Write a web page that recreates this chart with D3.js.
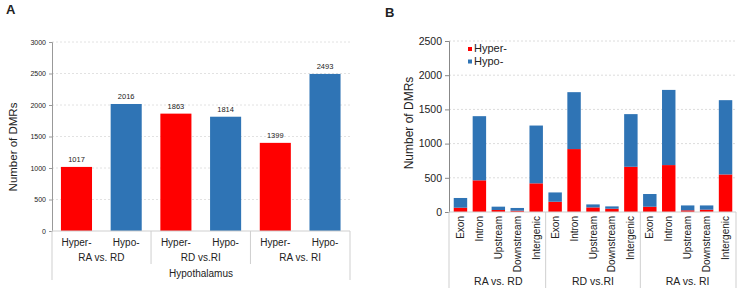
<!doctype html>
<html>
  <head>
    <meta charset="utf-8">
    <title>DMRs</title>
    <script src="https://cdn.jsdelivr.net/npm/d3@7"></script>
    <style>
      body { margin: 0; background: #fff; }
      text { font-family: "Liberation Sans", Arial, sans-serif; fill: #222; }
    </style>
  </head>
  <body>
    <script>
      // panel A data
      const comparisons = ['RA vs. RD', 'RD vs.RI', 'RA vs. RI'];
      const directions = ['Hyper-', 'Hypo-'];
      const hyperTotals = [1017, 1863, 1399];
      const hypoTotals = [2016, 1814, 2493];
      const ticksA = [0, 500, 1000, 1500, 2000, 2500, 3000];

      // panel B data
      const regions = ['Exon', 'Intron', 'Upstream', 'Downstream', 'Intergenic'];
      const hyperByRegion = [
        [63, 463, 29, 19, 419],
        [150, 920, 67, 48, 661],
        [77, 686, 25, 34, 549]
      ];
      const hypoByRegion = [
        [142, 938, 49, 40, 845],
        [136, 832, 44, 34, 770],
        [186, 1099, 71, 62, 1086]
      ];
      const ticksB = [0, 500, 1000, 1500, 2000, 2500];

      const red = '#ff0000';
      const blue = '#2f74b5';
      const colors = [red, blue];

      const svg = d3.select('body').append('svg')
          .attr('width', 744)
          .attr('height', 299);

      // ---------- Panel A ----------
      const a = svg.append('g');
      a.append('text').attr('x', 6).attr('y', 14)
          .attr('font-size', 13).attr('font-weight', 'bold').text('A');

      const rowsA = [];
      comparisons.forEach((c, i) => {
        rowsA.push({ group: c, dir: directions[0], value: hyperTotals[i], key: c + directions[0] });
        rowsA.push({ group: c, dir: directions[1], value: hypoTotals[i], key: c + directions[1] });
      });

      const xA = d3.scaleBand()
          .domain(rowsA.map(d => d.key))
          .range([52, 349.5])
          .paddingInner(0.375)
          .paddingOuter(0.18);
      const yA = d3.scaleLinear().domain([0, 3000]).range([231, 42]);

      // gridlines
      a.append('g').selectAll('line')
        .data(ticksA.slice(1))
        .enter().append('line')
          .attr('x1', 52).attr('x2', 350)
          .attr('y1', d => yA(d)).attr('y2', d => yA(d))
          .attr('stroke', '#e2e2e2').attr('stroke-dasharray', '2,2');

      const yAxisA = a.append('g')
          .attr('transform', 'translate(52,0)')
          .call(d3.axisLeft(yA).tickValues(ticksA).tickFormat(d3.format('d')).tickSize(3).tickPadding(3));
      yAxisA.select('.domain').attr('stroke', '#999');
      yAxisA.selectAll('.tick line').attr('stroke', '#999');
      yAxisA.selectAll('.tick text').attr('font-size', 7).attr('fill', '#333')
          .attr('font-family', '"Liberation Sans", Arial, sans-serif');

      a.selectAll('rect.bar')
        .data(rowsA)
        .enter().append('rect')
          .attr('class', 'bar')
          .attr('x', d => xA(d.key))
          .attr('width', xA.bandwidth())
          .attr('y', d => yA(d.value))
          .attr('height', d => yA(0) - yA(d.value))
          .attr('fill', d => d.dir === directions[0] ? red : blue);

      a.selectAll('text.val')
        .data(rowsA)
        .enter().append('text')
          .attr('class', 'val')
          .attr('x', d => xA(d.key) + xA.bandwidth() / 2)
          .attr('y', d => yA(d.value) - 5)
          .attr('text-anchor', 'middle')
          .attr('font-size', 7.5)
          .text(d => d.value);

      // baseline + category axis
      const stepA = xA.step();
      const axisGray = '#cfcfcf';
      a.append('line').attr('x1', 52).attr('x2', 350)
          .attr('y1', 231).attr('y2', 231).attr('stroke', axisGray);
      a.append('line').attr('x1', 52).attr('x2', 52)
          .attr('y1', 231).attr('y2', 280).attr('stroke', axisGray);
      a.append('line').attr('x1', 350).attr('x2', 350)
          .attr('y1', 231).attr('y2', 280).attr('stroke', axisGray);
      comparisons.slice(1).forEach(c => {
        const xs = xA(c + directions[0]) - (stepA - xA.bandwidth()) / 2;
        a.append('line').attr('x1', xs).attr('x2', xs)
            .attr('y1', 231).attr('y2', 264).attr('stroke', axisGray);
      });

      a.selectAll('text.dir')
        .data(rowsA)
        .enter().append('text')
          .attr('class', 'dir')
          .attr('x', d => xA(d.key) + xA.bandwidth() / 2)
          .attr('y', 245.5)
          .attr('text-anchor', 'middle')
          .attr('font-size', 10)
          .text(d => d.dir);

      a.selectAll('text.grp')
        .data(comparisons)
        .enter().append('text')
          .attr('class', 'grp')
          .attr('x', c => (xA(c + directions[0]) + xA(c + directions[1]) + xA.bandwidth()) / 2)
          .attr('y', 261)
          .attr('text-anchor', 'middle')
          .attr('font-size', 10)
          .text(c => c);

      a.append('text')
          .attr('x', 201).attr('y', 277)
          .attr('text-anchor', 'middle')
          .attr('font-size', 10)
          .text('Hypothalamus');

      a.append('text')
          .attr('transform', 'translate(17,147) rotate(-90)')
          .attr('text-anchor', 'middle')
          .attr('font-size', 11.5)
          .text('Number of DMRs');

      // ---------- Panel B ----------
      const b = svg.append('g');
      b.append('text').attr('x', 385).attr('y', 17)
          .attr('font-size', 13).attr('font-weight', 'bold').text('B');

      const rowsB = [];
      comparisons.forEach((c, gi) => {
        regions.forEach((r, ri) => {
          rowsB.push({
            group: c, region: r, key: c + '|' + r,
            hyper: hyperByRegion[gi][ri], hypo: hypoByRegion[gi][ri]
          });
        });
      });

      const xB = d3.scaleBand()
          .domain(rowsB.map(d => d.key))
          .range([449, 737])
          .paddingInner(0.29)
          .paddingOuter(0.25);
      const yB = d3.scaleLinear().domain([0, 2500]).range([212, 41]);

      b.append('g').selectAll('line')
        .data(ticksB.slice(1))
        .enter().append('line')
          .attr('x1', 449).attr('x2', 736)
          .attr('y1', d => yB(d)).attr('y2', d => yB(d))
          .attr('stroke', '#dcdcdc').attr('stroke-dasharray', '2,2');

      const yAxisB = b.append('g')
          .attr('transform', 'translate(449,0)')
          .call(d3.axisLeft(yB).tickValues(ticksB).tickFormat(d3.format('d')).tickSize(4).tickPadding(3));
      yAxisB.select('.domain').attr('stroke', '#888');
      yAxisB.selectAll('.tick line').attr('stroke', '#888');
      yAxisB.selectAll('.tick text').attr('font-size', 10.5).attr('fill', '#222')
          .attr('font-family', '"Liberation Sans", Arial, sans-serif');

      const stack = d3.stack().keys(['hyper', 'hypo'])(rowsB);
      b.selectAll('g.series')
        .data(stack)
        .enter().append('g')
          .attr('class', 'series')
          .attr('fill', (d, i) => colors[i])
        .selectAll('rect')
        .data(d => d)
        .enter().append('rect')
          .attr('x', d => xB(d.data.key))
          .attr('width', xB.bandwidth())
          .attr('y', d => yB(d[1]))
          .attr('height', d => yB(d[0]) - yB(d[1]));

      const stepB = xB.step();
      b.append('line').attr('x1', 449).attr('x2', 736)
          .attr('y1', 212).attr('y2', 212).attr('stroke', axisGray);
      const seps = [449, ...comparisons.slice(1).map(c => xB(c + '|' + regions[0]) - (stepB - xB.bandwidth()) / 2), 736];
      b.selectAll('line.sep')
        .data(seps)
        .enter().append('line')
          .attr('class', 'sep')
          .attr('x1', d => d).attr('x2', d => d)
          .attr('y1', 212).attr('y2', 288)
          .attr('stroke', axisGray);

      b.selectAll('text.reg')
        .data(rowsB)
        .enter().append('text')
          .attr('class', 'reg')
          .attr('transform', d => `translate(${xB(d.key) + xB.bandwidth() / 2 + 3.5},216) rotate(-90)`)
          .attr('text-anchor', 'end')
          .attr('font-size', 10)
          .text(d => d.region);

      b.selectAll('text.grpB')
        .data(comparisons)
        .enter().append('text')
          .attr('class', 'grpB')
          .attr('x', c => {
            const x0 = xB(c + '|' + regions[0]);
            const x1 = xB(c + '|' + regions[regions.length - 1]) + xB.bandwidth();
            return (x0 + x1) / 2;
          })
          .attr('y', 285)
          .attr('text-anchor', 'middle')
          .attr('font-size', 10.5)
          .text(c => c);

      b.append('text')
          .attr('transform', 'translate(413,123) rotate(-90)')
          .attr('text-anchor', 'middle')
          .attr('font-size', 12)
          .text('Number of DMRs');

      // legend
      const legend = b.selectAll('g.leg')
        .data(directions)
        .enter().append('g')
          .attr('class', 'leg')
          .attr('transform', (d, i) => `translate(468,${47 + i * 12.5})`);
      legend.append('rect')
          .attr('width', 4).attr('height', 4)
          .attr('fill', (d, i) => colors[i]);
      legend.append('text')
          .attr('x', 6).attr('y', 5)
          .attr('font-size', 11)
          .text(d => d);
    </script>
  </body>
</html>
